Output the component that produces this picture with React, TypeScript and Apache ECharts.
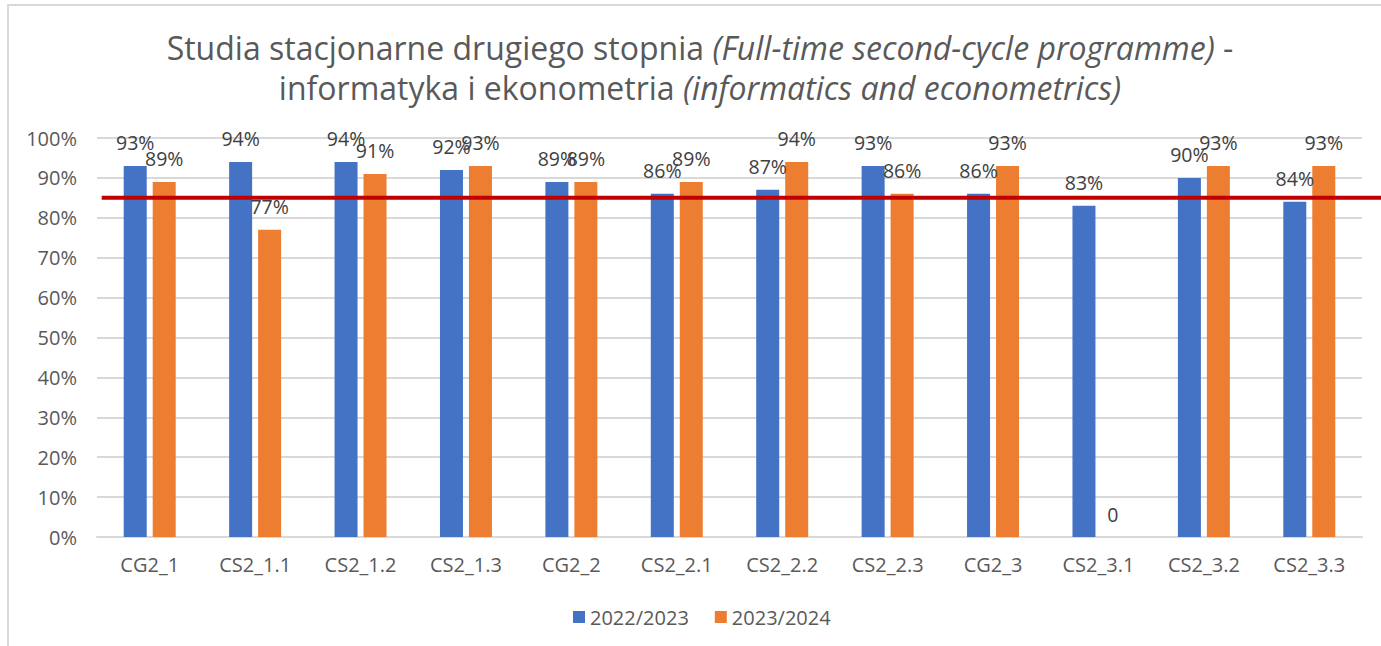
import React, { useEffect, useRef } from "react";
import * as echarts from "echarts";

const categories = ["CG2_1", "CS2_1.1", "CS2_1.2", "CS2_1.3", "CG2_2", "CS2_2.1", "CS2_2.2", "CS2_2.3", "CG2_3", "CS2_3.1", "CS2_3.2", "CS2_3.3"];
const series2022 = [93, 94, 94, 92, 89, 86, 87, 93, 86, 83, 90, 84];
const series2023 = [89, 77, 91, 93, 89, 89, 94, 86, 93, 0, 93, 93];
const seriesNames = ["2022/2023", "2023/2024"];
const threshold = 85;
const titleLine1 = "Studia stacjonarne drugiego stopnia ";
const titleItalic1 = "(Full-time second-cycle programme)";
const titleLine2 = "informatyka i ekonometria ";
const titleItalic2 = "(informatics and econometrics)";

const FONT = "'Open Sans', 'Noto Sans', sans-serif";
const TEXT = "#595959";

export default function App() {
  const ref = useRef<HTMLDivElement>(null);
  useEffect(() => {
    document.body.style.margin = "0";
    const chart = echarts.init(ref.current!, undefined, { renderer: "svg" });
    const label = {
      show: true,
      position: "top" as const,
      distance: 13,
      fontSize: 19.5,
      fontFamily: FONT,
      color: "#404040",
      formatter: (p: any) => (p.value === 0 ? "0" : p.value + "%"),
    };
    chart.setOption({
      animation: false,
      backgroundColor: "#ffffff",
      title: {
        text:
          "{n|" + titleLine1 + "}{i|" + titleItalic1 + "}{n| -}\n{n|" + titleLine2 + "}{i|" + titleItalic2 + "}",
        left: 700,
        textAlign: "center",
        top: 27,
        padding: 0,
        textStyle: {
          fontFamily: FONT,
          fontSize: 32,
          fontWeight: "normal",
          color: TEXT,
          lineHeight: 40,
          rich: {
            n: { fontFamily: FONT, fontSize: 32, color: TEXT, lineHeight: 40 },
            i: { fontFamily: FONT, fontSize: 32, color: TEXT, fontStyle: "italic", lineHeight: 40 },
          },
        },
      },
      legend: {
        top: 602,
        left: 568,
        icon: "rect",
        itemWidth: 12,
        itemHeight: 12,
        itemGap: 26,
        textStyle: { fontFamily: FONT, fontSize: 20, color: TEXT },
        data: seriesNames,
      },
      grid: { left: 97, right: 19, top: 138, bottom: 109, containLabel: false },
      xAxis: {
        type: "category",
        data: categories,
        axisTick: { show: false },
        axisLine: { lineStyle: { color: "#d9d9d9", width: 2 } },
        axisLabel: { fontFamily: FONT, fontSize: 20, color: TEXT, margin: 17 },
      },
      yAxis: {
        type: "value",
        min: 0,
        max: 100,
        interval: 10,
        axisLabel: { fontFamily: FONT, fontSize: 20, color: TEXT, margin: 20, formatter: "{value}%" },
        splitLine: { lineStyle: { color: "#d9d9d9", width: 2 } },
        axisLine: { show: false },
        axisTick: { show: false },
      },
      series: [
        {
          name: seriesNames[0],
          type: "bar",
          data: series2022,
          barWidth: 23,
          barGap: "26%",
          itemStyle: { color: "#4472C4" },
          label,
        },
        {
          name: seriesNames[1],
          type: "bar",
          data: series2023,
          barWidth: 23,
          itemStyle: { color: "#ED7D31" },
          label,
        },
      ],
    });
    const y = chart.convertToPixel({ yAxisIndex: 0 }, threshold) as number;
    const x0 = chart.convertToPixel({ xAxisIndex: 0 }, 0) as number;
    chart.setOption({
      graphic: [
        {
          type: "rect",
          shape: { x: 8, y: 5, width: 1400, height: 700 },
          style: { fill: "none", stroke: "#d9d9d9", lineWidth: 2 },
          silent: true,
        },
        {
          type: "line",
          shape: { x1: x0 - 48, y1: y, x2: 1381, y2: y },
          style: { stroke: "#C00000", lineWidth: 4 },
          silent: true,
          z: 100,
        },
      ],
    });
    return () => chart.dispose();
  }, []);
  return <div ref={ref} style={{ position: "fixed", left: 0, top: 0, width: 1381, height: 646 }} />;
}
